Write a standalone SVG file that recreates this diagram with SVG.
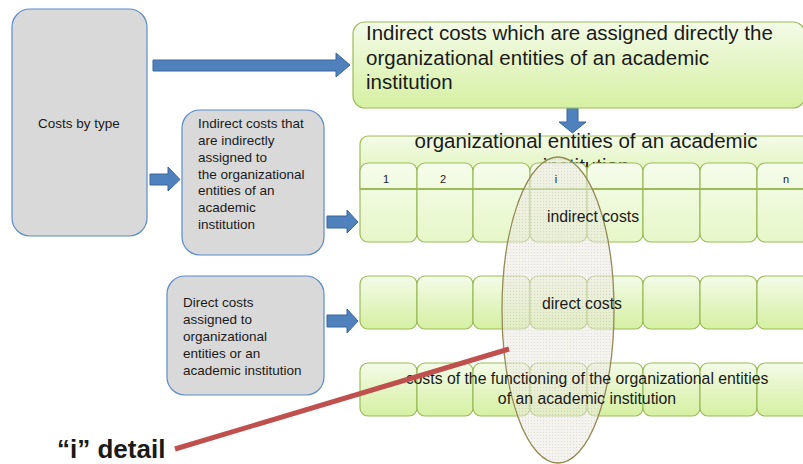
<svg xmlns="http://www.w3.org/2000/svg" width="803" height="464" viewBox="0 0 803 464">
<defs>
<linearGradient id="gg" x1="0" y1="0" x2="0" y2="1">
<stop offset="0" stop-color="#f4fbe8"/>
<stop offset="1" stop-color="#d5f0a2"/>
</linearGradient>
<linearGradient id="gh" x1="0" y1="0" x2="0" y2="1">
<stop offset="0" stop-color="#f6fcec"/>
<stop offset="1" stop-color="#e6f7c8"/>
</linearGradient>
<pattern id="dots" width="3" height="3" patternUnits="userSpaceOnUse">
<rect width="3" height="3" fill="#ece9e2"/>
<rect width="1" height="1" fill="#c9c2b0"/>
</pattern>
<style>
.gray{fill:#d9d9d9;stroke:#5b8ccc;stroke-width:1.2}
.green{fill:url(#gg);stroke:#9bbb59;stroke-width:1.2}
.cell{fill:url(#gg);stroke:#9bbb59;stroke-width:1.2}
.hcell{fill:url(#gh);stroke:#9bbb59;stroke-width:1.2}
.arr{fill:#4f81bd;stroke:#3a659b;stroke-width:1}
.t{font-family:"Liberation Sans",Arial,sans-serif;fill:#1a1a1a}
.s{font-size:13.5px}
.m{font-size:15.8px}
.b{font-size:20.5px}
</style>
</defs>

<g id="connectors">
<polygon class="arr" points="153,60 336,60 336,53 350,65 336,77 336,71 153,71"/>
<polygon class="arr" points="150,174 168,174 168,167 180,179.5 168,191 168,185 150,185"/>
<polygon class="arr" points="327,216 347,216 347,210 358,222 347,233 347,228 327,228"/>
<polygon class="arr" points="327,315 347,315 347,309 358,321 347,333 347,327 327,327"/>
<polygon class="arr" points="567,105 578,105 578,122 586,122 572.5,133 559,122 567,122"/>
</g>

<g id="costs-by-type">
<rect class="gray" x="12" y="9" width="135" height="227" rx="18"/>
<text class="t s" x="79" y="128" text-anchor="middle">Costs by type</text>
</g>

<g id="indirect-box">
<rect class="gray" x="182" y="110" width="142" height="145" rx="18"/>
<text class="t s" x="198" y="128">Indirect costs that</text>
<text class="t s" x="198" y="145">are indirectly</text>
<text class="t s" x="198" y="161.5">assigned to</text>
<text class="t s" x="198" y="178.5">the organizational</text>
<text class="t s" x="198" y="195">entities of an</text>
<text class="t s" x="198" y="212">academic</text>
<text class="t s" x="198" y="228.5">institution</text>
</g>

<g id="direct-box">
<rect class="gray" x="167" y="276" width="157" height="119" rx="18"/>
<text class="t s" x="183" y="307">Direct costs</text>
<text class="t s" x="183" y="324">assigned to</text>
<text class="t s" x="183" y="341">organizational</text>
<text class="t s" x="183" y="358">entities or an</text>
<text class="t s" x="183" y="375">academic institution</text>
</g>

<g id="top-green">
<rect class="green" x="353" y="22" width="452" height="86" rx="12"/>
<text class="t b" x="366" y="40">Indirect costs which are assigned directly the</text>
<text class="t b" x="366" y="65">organizational entities of an academic</text>
<text class="t b" x="366" y="89">institution</text>
</g>

<g id="org-bar">
<rect class="green" x="360" y="136" width="460" height="60" rx="8"/>
<text class="t b" x="586" y="148" text-anchor="middle">organizational entities of an academic</text>
<text class="t b" x="586" y="173" text-anchor="middle">institution</text>
</g>

<g id="indirect-row">
<rect x="360" y="163" width="57" height="79" rx="8" class="hcell"/>
<rect x="417" y="163" width="56" height="79" rx="8" class="hcell"/>
<rect x="473" y="163" width="57" height="79" rx="8" class="hcell"/>
<rect x="530" y="163" width="57" height="79" rx="8" class="hcell"/>
<rect x="587" y="163" width="56" height="79" rx="8" class="hcell"/>
<rect x="643" y="163" width="57" height="79" rx="8" class="hcell"/>
<rect x="700" y="163" width="57" height="79" rx="8" class="hcell"/>
<rect x="757" y="163" width="57" height="79" rx="8" class="hcell"/>
<line x1="360" y1="189" x2="803" y2="189" stroke="#9bbb59" stroke-width="2"/>
</g>

<g id="direct-row">
<rect x="360" y="276" width="57" height="53" rx="8" class="cell"/>
<rect x="417" y="276" width="56" height="53" rx="8" class="cell"/>
<rect x="473" y="276" width="57" height="53" rx="8" class="cell"/>
<rect x="530" y="276" width="57" height="53" rx="8" class="cell"/>
<rect x="587" y="276" width="56" height="53" rx="8" class="cell"/>
<rect x="643" y="276" width="57" height="53" rx="8" class="cell"/>
<rect x="700" y="276" width="57" height="53" rx="8" class="cell"/>
<rect x="757" y="276" width="57" height="53" rx="8" class="cell"/>
</g>

<g id="functioning-row">
<rect x="360" y="363" width="57" height="53" rx="8" class="cell"/>
<rect x="417" y="363" width="56" height="53" rx="8" class="cell"/>
<rect x="473" y="363" width="57" height="53" rx="8" class="cell"/>
<rect x="530" y="363" width="57" height="53" rx="8" class="cell"/>
<rect x="587" y="363" width="56" height="53" rx="8" class="cell"/>
<rect x="643" y="363" width="57" height="53" rx="8" class="cell"/>
<rect x="700" y="363" width="57" height="53" rx="8" class="cell"/>
<rect x="757" y="363" width="57" height="53" rx="8" class="cell"/>
</g>

<g id="i-ellipse">
<ellipse cx="558" cy="310" rx="56" ry="153" fill="url(#dots)" fill-opacity="0.55" stroke="#948a54" stroke-width="1.3"/>
</g>

<g id="labels">
<text class="t" font-size="11" x="386" y="183" text-anchor="middle">1</text>
<text class="t" font-size="11" x="443" y="183" text-anchor="middle">2</text>
<text class="t" font-size="11" x="556" y="183" text-anchor="middle">i</text>
<text class="t" font-size="11" x="786" y="183" text-anchor="middle">n</text>
<text class="t m" x="593" y="222" text-anchor="middle">indirect costs</text>
<text class="t m" x="582" y="309" text-anchor="middle">direct costs</text>
<text class="t m" x="587" y="384" text-anchor="middle">costs of the functioning of the organizational entities</text>
<text class="t m" x="587" y="404" text-anchor="middle">of an academic institution</text>
</g>

<g id="i-detail">
<line x1="175" y1="449" x2="509" y2="349" stroke="#c0504d" stroke-width="5"/>
<text class="t" font-size="26" font-weight="bold" fill="#000" x="57" y="458">“i” detail</text>
</g>
</svg>
